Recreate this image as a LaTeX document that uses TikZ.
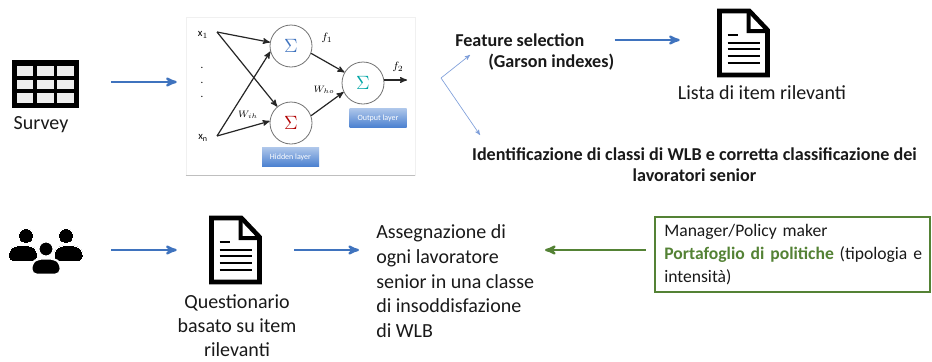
\documentclass[tikz,border=0pt]{standalone}
\usepackage{fontspec}
\setmainfont{Carlito}
\usetikzlibrary{arrows,calc}

\definecolor{flowblue}{HTML}{3F73BE}
\definecolor{thinblue}{HTML}{7F9FDA}
\definecolor{polgreen}{HTML}{548235}
\definecolor{btnblue}{HTML}{4A80D0}
\newcommand{\px}{0.75pt}

\tikzset{
  flow/.style={->,>=stealth',line width=1.7pt,flowblue},
  thinflow/.style={->,>=stealth',line width=0.5pt,thinblue},
  greenflow/.style={->,>=stealth',line width=1.7pt,polgreen},
  net/.style={->,>=stealth',line width=0.9pt,black!85},
  neuron/.style={circle,draw=black!55,fill=white,line width=0.6pt,minimum size=42*\px,inner sep=0pt,font=\Large},
  layerbtn/.style={rectangle,top color=btnblue!45,bottom color=btnblue,draw=none,text=white,font=\fontsize{6}{7}\selectfont,
                   minimum width=57*\px,minimum height=19*\px,inner sep=0pt},
  plain/.style={font=\fontsize{15}{18}\selectfont,text=black!90,inner sep=0pt,align=center},
  boldlabel/.style={font=\fontsize{13.6}{16}\bfseries\selectfont,text=black!90,inner sep=0pt,align=center},
  netlabel/.style={font=\footnotesize,inner sep=0pt},
  weightlabel/.style={font=\scriptsize,inner sep=0pt},
  iconbox/.style={rectangle,draw=none,inner sep=0pt,minimum width=53*\px,minimum height=68*\px},
}

% document icon, origin at its centre
\newcommand{\docicon}[2]{
  \node[iconbox] (#1) at (#2) {};
  \begin{scope}[shift={(#2)}]
    \draw[black,line width=3.4pt,line join=miter] (-24,-32) -- (6,-32) -- (24,-13) -- (24,32) -- (-24,32) -- cycle;
    \fill[black] (3,-32) rectangle (7,-10) (3,-14) rectangle (24,-10);
    \draw[black,line width=1.7pt] (-16,-8) -- (-6,-8);
    \foreach \y in {0,6,13,20} \draw[black,line width=1.7pt] (-16,\y) -- (16,\y);
  \end{scope}
}
% one person of the group icon: head x, head y, body offset, halo
\newcommand{\personicon}[4]{
  \fill[black,draw=white,line width=#4] (#1,#2) circle (7.5);
  \fill[black,draw=white,line width=#4,rounded corners=5*\px]
    ($(#1,#2)+(#3-14.5,25.5)$) -- ($(#1,#2)+(#3-14.5,14)$) -- ($(#1,#2)+(#3-8,9.5)$) -- ($(#1,#2)+(#3+8,9.5)$) -- ($(#1,#2)+(#3+14.5,14)$) -- ($(#1,#2)+(#3+14.5,25.5)$) -- cycle;
}

\begin{document}
\begin{tikzpicture}[x=0.75pt,y=-0.75pt]
  \useasboundingbox (0,0) rectangle (932,361);

  % survey
  \node[rectangle,fill=black,inner sep=0pt,minimum width=67*\px,minimum height=48*\px] (table) at (45.5,84) {};
  \foreach \xa/\xb in {17/33,37/54,57/74}
    \foreach \ya/\yb in {66/76,80/89,93/103}
      \fill[black!7] (\xa,\ya) rectangle (\xb,\yb);
  \node[plain] (survey) at (41,125) {Survey};

  % network panel
  \node[rectangle,draw=black!6,fill=white,minimum width=229*\px,minimum height=158*\px,inner sep=0pt] (panel) at (300.5,96) {};
  \draw[black!25,line width=0.6pt] (panel.south west) -- (panel.south east);

  \node[neuron] (h1) at (291,46)  {\color{flowblue}$\Sigma$};
  \node[neuron] (h2) at (291,123) {\color{red!70!black}$\Sigma$};
  \node[neuron] (o)  at (363,83)  {\color{teal!70!cyan}$\Sigma$};
  \node[netlabel] (x1) at (203,35)  {x$_1$};
  \node[netlabel] (xn) at (203,138) {x$_{\mathrm{n}}$};
  \foreach \n/\y in {a/68,b/83,c/97}
    \node[netlabel] (dot\n) at (202,\y) {.};
  \coordinate (fout) at (407,80);

  \draw[net] (x1) ++(14,-3) -- (h1.170);
  \draw[net] (x1) ++(14,-3) -- (h2.130);
  \draw[net] (xn) ++(14,-2) -- (h1.195);
  \draw[net] (xn) ++(14,-2) -- (h2.175);
  \draw[net] (h1.-20) -- (o.150);
  \draw[net] (h2.20) -- (o.205);
  \draw[net] (o.east |- fout) -- (fout);

  \node[netlabel] (f1)  at (327,38)  {$f_1$};
  \node[netlabel] (f2)  at (398,67)  {$f_2$};
  \node[weightlabel] (who) at (324,90)  {$W_{ho}$};
  \node[weightlabel] (wih) at (248,115) {$W_{ih}$};
  \node[layerbtn] (outbtn) at (378,118)   {Output layer};
  \node[layerbtn] (hidbtn) at (290.5,157) {Hidden layer};

  \coordinate (tableout) at (79,82);
  \draw[flow,shorten <=32*\px,shorten >=9*\px] (tableout) -- (tableout -| panel.west);

  % results
  \coordinate (fan) at (441,78);
  \coordinate (fanup) at (470,55);
  \coordinate (fandown) at (480,135);
  \draw[thinflow] (fan) -- (fanup);
  \draw[thinflow] (fan) -- (fandown);

  \node[boldlabel,anchor=west] (feature) at (455,40) {Feature selection};
  \node[boldlabel,anchor=west] (garson)  at (488,62) {(Garson indexes)};
  \docicon{lista}{743.5,43}
  \node[plain] (listalabel) at (762,93) {Lista di item rilevanti};
  \draw[flow,shorten <=30*\px,shorten >=37*\px] (feature.east) -- (feature.east -| lista.west);
  \node[boldlabel] (classi) at (694.5,165) {Identificazione di classi di WLB e corretta classificazione dei\\lavoratori senior};

  % second row
  \personicon{26}{236}{-3}{0pt}
  \personicon{66}{236}{2.5}{0pt}
  \personicon{46}{249}{0}{1.5pt}
  \coordinate (group) at (82,250);
  \docicon{quest}{235.5,250}
  \node[plain] (questlabel) at (237,325.5) {Questionario\\basato su item\\rilevanti};
  \draw[flow,shorten <=29*\px,shorten >=32*\px] (group) -- (quest.west);

  \node[plain,align=left,anchor=north west,font=\fontsize{15}{18.7}\selectfont] (assegn) at (376,224) {Assegnazione di\\ogni lavoratore\\senior in una classe\\di insoddisfazione\\di WLB};
  \draw[flow,shorten <=32*\px,shorten >=17*\px] (quest.east) -- (quest.east -| assegn.west);

  \node[rectangle,draw=polgreen,line width=1.7pt,inner sep=0pt,minimum width=275*\px,minimum height=75*\px] (policy) at (792.5,254.5) {};
  \node[anchor=north west,inner sep=0pt,align=left,text width=264*\px,text=black!90,font=\fontsize{13.2}{17.2}\selectfont] (policytext) at (664,224)
    {Manager/Policy maker\\{\color{polgreen}\bfseries Portafoglio di politiche} (tipologia e intensità)};
  \coordinate (policyout) at (545,250);
  \draw[greenflow,shorten <=8*\px] (policy.west |- policyout) -- (policyout);
\end{tikzpicture}
\end{document}
